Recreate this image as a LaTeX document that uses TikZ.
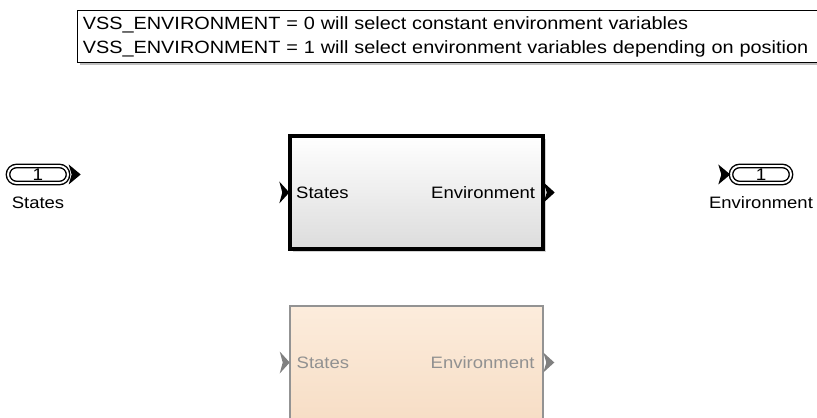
\documentclass[tikz,border=0pt]{standalone}
\usepackage{fontspec}
\setmainfont{Liberation Sans}[FakeStretch=1.12]
\usetikzlibrary{positioning,shapes.misc,shadows}
\definecolor{blockgray}{RGB}{220,220,220}
\definecolor{peach}{RGB}{252,236,220}
\definecolor{peachdark}{RGB}{247,222,198}
\definecolor{dimtext}{RGB}{145,145,145}

\tikzset{
  every node/.style={font=\fontsize{9.4}{11}\selectfont},
  portoval/.style={draw, rounded rectangle, double, double distance=1.1pt, line width=0.8pt,
    minimum width=1.2cm, minimum height=0.34cm, inner sep=0pt, fill=white,
    font=\fontsize{9.6}{11}\selectfont,
    drop shadow={shadow xshift=1pt, shadow yshift=-1pt, opacity=0.3}},
  subsys/.style={draw, line width=2pt, minimum width=5.06cm, minimum height=2.26cm,
    top color=white, bottom color=blockgray,
    drop shadow={shadow xshift=1.5pt, shadow yshift=-1.5pt, opacity=0.35}},
  ghostsys/.style={draw=gray!85, line width=1.5pt, minimum width=5.06cm, minimum height=2.26cm,
    top color=peach, bottom color=peachdark},
  note/.style={draw, line width=0.6pt, fill=white, align=left, inner sep=3pt,
    text width=14.6cm, minimum height=1.04cm, anchor=north west,
    drop shadow={shadow xshift=1.5pt, shadow yshift=-1.5pt, opacity=0.5}}
}

\begin{document}
\begin{tikzpicture}[x=0.02cm, y=-0.02cm]
  \useasboundingbox (0,0) rectangle (817,418);

  % annotation
  \node[note, font=\fontsize{10.1}{13.6}\selectfont] (vssnote) at (77,10)
    {VSS\_ENVIRONMENT = 0 will select constant environment variables\\
     VSS\_ENVIRONMENT = 1 will select environment variables depending on position};

  % inport
  \node[portoval] (inport) at (38,174.5) {1};
  \node[below=4pt of inport] (inlabel) {States};

  % active subsystem
  \node[subsys] (envblock) at (416.5,192.5) {};
  \node[anchor=west] (envin) at ([xshift=1pt]envblock.west) {States};
  \node[anchor=east] (envout) at ([xshift=-2pt]envblock.east) {Environment};

  % commented-out subsystem
  \begin{scope}
    \clip (0,0) rectangle (817,418);
    \node[ghostsys] (constblock) at (416.5,362.5) {};
  \end{scope}
  \node[anchor=west, text=dimtext] (constin) at ([xshift=1pt]constblock.west) {States};
  \node[anchor=east, text=dimtext] (constout) at ([xshift=-2pt]constblock.east) {Environment};

  % outport
  \node[portoval] (outport) at (761,174.5) {1};
  \node[below=4pt of outport] (outlabel) {Environment};

  % port chevrons
  \fill (inport.east) ++(0,-10) -- ++(12,10) -- ++(-12,10) -- ++(3,-10) -- cycle;
  \fill (outport.west) ++(-12,-10) -- ++(12,10) -- ++(-12,10) -- ++(3,-10) -- cycle;
  \fill (envblock.west) ++(-9,-11) -- ++(10,11) -- ++(-10,11) -- ++(3,-11) -- cycle;
  \fill (envblock.east) ++(-1,-10) -- ++(11,10) -- ++(-11,10) -- ++(3,-10) -- cycle;
  \fill[gray] (constblock.west) ++(-9,-11) -- ++(10,11) -- ++(-10,11) -- ++(3,-11) -- cycle;
  \fill[gray] (constblock.east) ++(-1,-10) -- ++(11,10) -- ++(-11,10) -- ++(3,-10) -- cycle;
\end{tikzpicture}
\end{document}
